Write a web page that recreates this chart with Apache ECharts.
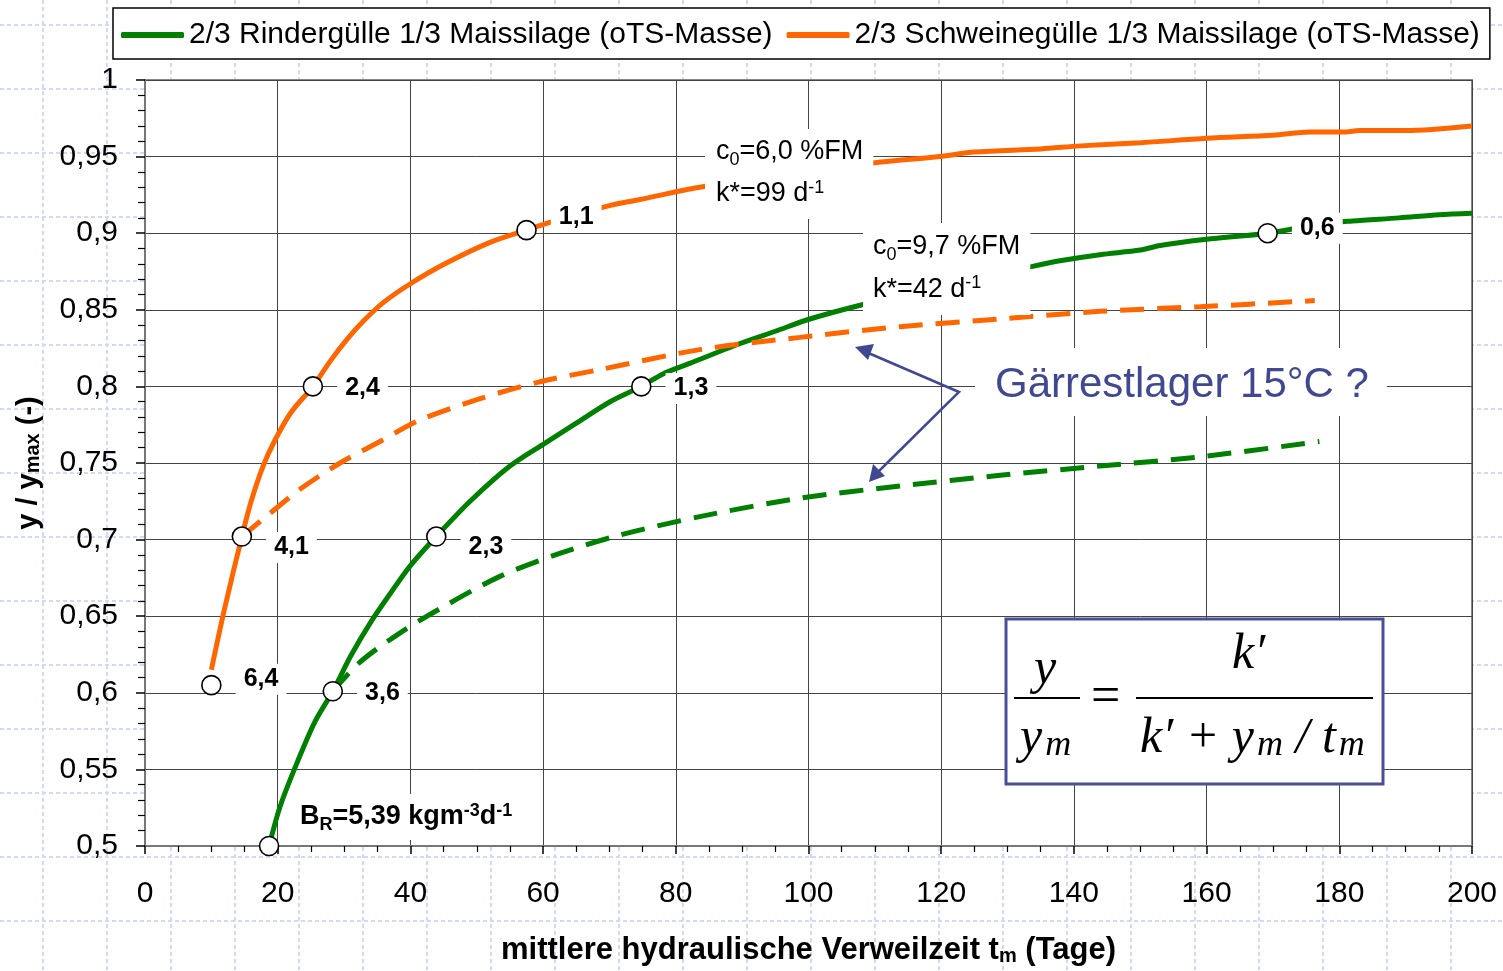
<!DOCTYPE html>
<html>
<head>
<meta charset="utf-8">
<script src="https://cdn.jsdelivr.net/npm/echarts@6/dist/echarts.min.js"></script>
<style>
html,body{margin:0;padding:0;background:#fff;}
#c{width:1503px;height:971px;}
</style>
</head>
<body>
<div id="c"></div>
<script>
// ---- data ----
const legendNames = ['2/3 Rindergülle 1/3 Maissilage (oTS-Masse)', '2/3 Schweinegülle 1/3 Maissilage (oTS-Masse)'];

const orangeSolid = [
  [10.0,0.615],[12.0,0.655],[14.6,0.702],[16.0,0.725],[17.8,0.748],[19.6,0.765],[22.0,0.783],[25.3,0.800],
  [28.0,0.817],[30.5,0.831],[33.0,0.843],[36.0,0.855],[40.0,0.867],[45.2,0.880],
  [52.0,0.894],[57.5,0.902],[61.0,0.907],[65.6,0.913],[70.0,0.918],[74.6,0.922],[83.6,0.930],
  [100.0,0.940],[110.0,0.946],[119.8,0.950],[125.0,0.953],[135.0,0.955],[141.0,0.957],
  [150.0,0.959],[160.0,0.962],[170.0,0.964],[175.6,0.966],[181.0,0.966],[183.0,0.967],
  [190.0,0.967],[200.0,0.970]
];
const greenSolid = [
  [18.7,0.500],[20.3,0.525],[22.6,0.551],[25.6,0.581],[28.3,0.601],[31.0,0.624],[34.0,0.646],
  [37.0,0.665],[40.0,0.683],[43.9,0.702],[49.0,0.725],[55.0,0.748],[60.3,0.763],[65.0,0.776],
  [70.1,0.790],[74.8,0.800],[78.0,0.808],[82.1,0.815],[89.7,0.828],[95.0,0.836],[100.2,0.844],
  [107.8,0.853],[115.0,0.860],[125.0,0.870],[133.4,0.878],[137.9,0.882],[143.9,0.886],
  [150.0,0.889],[153.0,0.892],[160.0,0.896],[169.2,0.900],[177.0,0.906],[182.0,0.908],
  [189.0,0.910],[195.0,0.912],[200.0,0.913]
];
const orangeDashed = [
  [14.6,0.702],[18.8,0.717],[23.4,0.733],[29.4,0.750],[35.4,0.764],[41.4,0.778],[50.5,0.792],
  [59.5,0.803],[68.6,0.811],[83.6,0.824],[98.7,0.832],[113.8,0.839],[128.9,0.844],
  [143.9,0.849],[159.0,0.852],[176.3,0.856]
];
const greenDashed = [
  [28.3,0.601],[32.4,0.620],[38.4,0.639],[44.5,0.655],[53.5,0.676],[62.5,0.691],[71.6,0.703],
  [83.6,0.715],[98.7,0.727],[113.8,0.735],[128.9,0.742],[143.9,0.748],[159.0,0.754],[177.0,0.764]
];
const orangePoints = [[10.0,0.605],[14.6,0.702],[25.3,0.800],[57.5,0.902]];
const orangePointLabels = ['6,4','4,1','2,4','1,1'];
const greenPoints = [[18.7,0.500],[28.3,0.601],[43.9,0.702],[74.8,0.800],[169.2,0.900]];
const greenPointLabels = ['','3,6','2,3','1,3','0,6'];

const xTicks = {min:0, max:200, interval:20};
const yTicks = {min:0.5, max:1, interval:0.05};

// ---- styles (kept apart from data) ----
const ORANGE = '#FF6600', GREEN = '#008000', BLUE = '#3f4890';
const orangeLabelOffsets = [[0,-6],[0,11],[0,2],[0,-13]];
const greenLabelOffsets = [[0,0],[0,2],[0,11],[0,2],[0,-5]];

const G = {left:145, top:80, right:1472, bottom:849};

function comma(v){ return String(+v.toFixed(2)).replace('.', ','); }

function pts(points, labels, offsets){
  return points.map((p,i)=>({
    value:p,
    label:{show: labels[i] !== '', formatter: labels[i], offset: offsets[i]}
  }));
}

const chart = echarts.init(document.getElementById('c'), null, {renderer:'canvas'});

// decorative background pattern
const bg = [];
for (let x = 43; x < 1503; x += 64) bg.push({type:'line', z:-100, silent:true, shape:{x1:x,y1:0,x2:x,y2:971}, style:{stroke:'#cfdaf5', lineWidth:2, lineDash:[4,3]}});
for (let y = 25; y < 971; y += 64) bg.push({type:'line', z:-100, silent:true, shape:{x1:0,y1:y,x2:1503,y2:y}, style:{stroke:'#cfdaf5', lineWidth:2, lineDash:[4,3]}});

const F = 'Liberation Sans, Arial, sans-serif';
const SERIF = 'Liberation Serif, Times New Roman, serif';
const graphics = bg.concat([
  // annotation boxes
  {type:'text', z:100, left:705, top:129, style:{
    text:'c{sub|0}=6,0 %FM\nk*=99 d{sup|-1}', font:'27px '+F, fill:'#000',
    backgroundColor:'#fff', padding:[2,10,4,11], lineHeight:42,
    rich:{sub:{fontSize:18, verticalAlign:'bottom', fontFamily:F, padding:[0,0,4,0]}, sup:{fontSize:18, verticalAlign:'top', fontFamily:F, padding:[6,0,0,0]}}
  }},
  {type:'text', z:100, left:863, top:223, style:{
    text:'c{sub|0}=9,7 %FM\nk*=42 d{sup|-1}', font:'27px '+F, fill:'#000',
    backgroundColor:'#fff', padding:[2,10,4,10], lineHeight:43,
    rich:{sub:{fontSize:18, verticalAlign:'bottom', fontFamily:F, padding:[0,0,4,0]}, sup:{fontSize:18, verticalAlign:'top', fontFamily:F, padding:[6,0,0,0]}}
  }},
  {type:'text', z:100, left:292, top:794, style:{
    text:'B{sub|R}=5,39 kgm{sup|-3}d{sup|-1}', font:'bold 27px '+F, fill:'#000',
    backgroundColor:'#fff', padding:[2,8,2,8], lineHeight:42,
    rich:{sub:{fontSize:18, fontWeight:'bold', verticalAlign:'bottom', fontFamily:F, padding:[0,0,4,0]}, sup:{fontSize:18, fontWeight:'bold', verticalAlign:'top', fontFamily:F, padding:[6,0,0,0]}}
  }},
  // Gärrestlager
  {type:'text', z:100, left:975, top:348, style:{
    text:'Gärrestlager 15°C ?', font:'42px '+F, fill:BLUE,
    backgroundColor:'#fff', padding:[16,18,10,20]
  }},
  // arrows
  {type:'polyline', z:100, shape:{points:[[866,352],[959,392],[878,472]]}, style:{stroke:BLUE, lineWidth:2.5, fill:null}},
  {type:'polygon', z:100, shape:{points:[[855,347],[874,344],[868,360]]}, style:{fill:BLUE}},
  {type:'polygon', z:100, shape:{points:[[869,482],[873,464],[885,476]]}, style:{fill:BLUE}},
  // formula box
  {type:'rect', z:100, shape:{x:1006,y:619,width:377,height:165}, style:{fill:'#fff', stroke:'#4a4f9a', lineWidth:3}},
  {type:'line', z:101, shape:{x1:1014,y1:698,x2:1080,y2:698}, style:{stroke:'#000', lineWidth:2}},
  {type:'line', z:101, shape:{x1:1136,y1:698,x2:1373,y2:698}, style:{stroke:'#000', lineWidth:2}},
  {type:'text', z:101, left:1034, top:645, style:{text:'y', font:'italic 50px '+SERIF, fill:'#000'}},
  {type:'text', z:101, left:1020, top:714, style:{text:'y{m|m}', font:'italic 50px '+SERIF, fill:'#000',
    rich:{m:{fontSize:36, fontStyle:'italic', fontFamily:SERIF, verticalAlign:'bottom', padding:[0,0,0,3]}}}},
  {type:'text', z:101, left:1091, top:672, style:{text:'=', font:'52px '+SERIF, fill:'#000'}},
  {type:'text', z:101, left:1232, top:630, style:{text:'k′', font:'italic 50px '+SERIF, fill:'#000'}},
  {type:'text', z:101, left:1140, top:714, style:{text:'k′ + y{m|m} / t{m|m}', font:'italic 50px '+SERIF, fill:'#000',
    rich:{m:{fontSize:36, fontStyle:'italic', fontFamily:SERIF, verticalAlign:'bottom', padding:[0,0,0,3]}}}}
]);

const lineCommon = {type:'line', showSymbol:false, symbol:'none', smooth:0.3, z:3};
const scatterCommon = {
  type:'scatter', symbol:'circle', symbolSize:19, z:10,
  itemStyle:{color:'#fff', borderColor:'#000', borderWidth:1.6, opacity:1},
  label:{show:true, position:'right', distance:14, fontFamily:F, fontWeight:'bold', fontSize:25,
    color:'#000', backgroundColor:'#fff', padding:[3,8,3,8]},
  emphasis:{disabled:true}
};

chart.setOption({
  animation:false,
  backgroundColor:'#fff',
  textStyle:{fontFamily:F},
  graphic:graphics,
  legend:{
    data:legendNames, left:113, top:8, orient:'horizontal',
    backgroundColor:'#fff', borderColor:'#000', borderWidth:1.5,
    padding:[12,10,9,8], itemGap:14, itemWidth:63, itemHeight:6, icon:'roundRect',
    textStyle:{fontSize:30, color:'#000', fontFamily:F}
  },
  grid:{left:G.left, top:G.top, right:1503-G.right, bottom:971-G.bottom, show:true,
    backgroundColor:'#fff', borderColor:'#888', borderWidth:2},
  xAxis:{
    type:'value', min:xTicks.min, max:xTicks.max, interval:xTicks.interval,
    axisLine:{show:true, lineStyle:{color:'#777', width:2}},
    axisTick:{show:true, length:8, inside:false, lineStyle:{color:'#000', width:1.5}},
    minorTick:{show:true, splitNumber:4, length:6, lineStyle:{color:'#000', width:1.2}},
    splitLine:{show:true, lineStyle:{color:'#444', width:1}},
    axisLabel:{fontSize:30, color:'#000', margin:33, formatter:v=>comma(v)},
    name:'mittlere hydraulische Verweilzeit t{sub|m} (Tage)', nameLocation:'middle', nameGap:89,
    nameTextStyle:{fontSize:31, fontWeight:'bold', color:'#000', fontFamily:F,
      rich:{sub:{fontSize:20, fontWeight:'bold', verticalAlign:'bottom', fontFamily:F, padding:[10,0,0,0]}}}
  },
  yAxis:{
    type:'value', min:yTicks.min, max:yTicks.max, interval:yTicks.interval,
    axisLine:{show:true, lineStyle:{color:'#777', width:2}},
    axisTick:{show:true, length:9, inside:false, lineStyle:{color:'#000', width:1.5}},
    minorTick:{show:true, splitNumber:5, length:7, lineStyle:{color:'#000', width:1.2}},
    splitLine:{show:true, lineStyle:{color:'#444', width:1}},
    axisLabel:{fontSize:30, color:'#000', margin:27, formatter:v=>comma(v)},
    name:'y / y{sub|max} (-)', nameLocation:'middle', nameRotate:90, nameGap:102,
    nameTextStyle:{fontSize:29, fontWeight:'bold', color:'#000', fontFamily:F,
      rich:{sub:{fontSize:20, fontWeight:'bold', verticalAlign:'bottom', fontFamily:F, padding:[9,0,0,0]}}}
  },
  series:[
    Object.assign({}, lineCommon, {name:legendNames[0], data:greenSolid, color:GREEN,
      lineStyle:{color:GREEN, width:5}}),
    Object.assign({}, lineCommon, {name:legendNames[1], data:orangeSolid, color:ORANGE,
      lineStyle:{color:ORANGE, width:5}}),
    Object.assign({}, lineCommon, {name:'green15', data:greenDashed, color:GREEN,
      lineStyle:{color:GREEN, width:5, type:[24,13]}}),
    Object.assign({}, lineCommon, {name:'orange15', data:orangeDashed, color:ORANGE,
      lineStyle:{color:ORANGE, width:5, type:[24,13]}}),
    Object.assign({}, scatterCommon, {name:'orangePts', data:pts(orangePoints, orangePointLabels, orangeLabelOffsets)}),
    Object.assign({}, scatterCommon, {name:'greenPts', data:pts(greenPoints, greenPointLabels, greenLabelOffsets)})
  ]
});
</script>
</body>
</html>
